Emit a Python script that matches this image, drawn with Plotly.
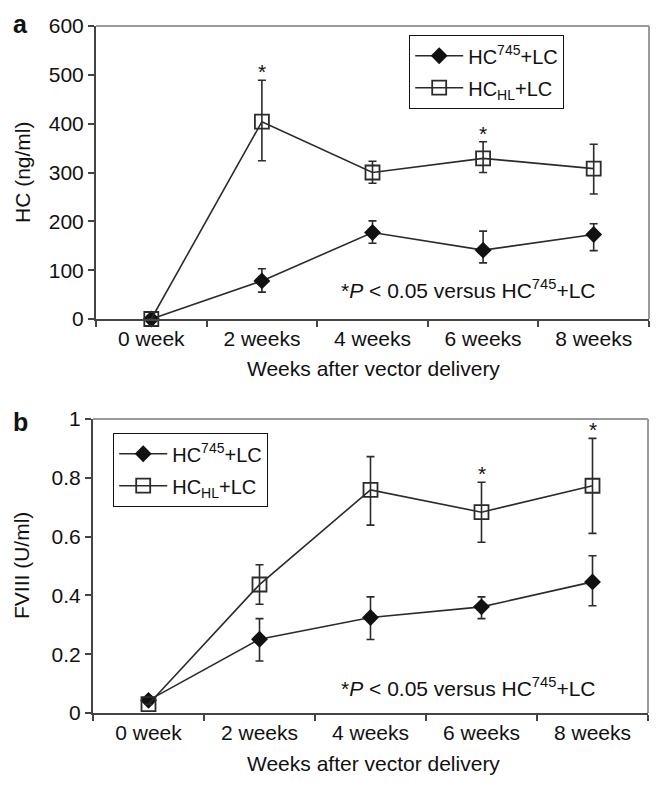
import plotly.graph_objects as go

weeks = ["0 week", "2 weeks", "4 weeks", "6 weeks", "8 weeks"]

# Panel a: HC (ng/ml)
a_hc745 = [0, 78, 177, 141, 173]
a_hc745_hi = [0, 103, 201, 180, 195]
a_hc745_lo = [0, 55, 155, 115, 140]
a_hchl = [0, 404, 300, 329, 308]
a_hchl_hi = [0, 489, 323, 363, 358]
a_hchl_lo = [0, 324, 278, 300, 256]
a_sig = ["2 weeks", "6 weeks"]

# Panel b: FVIII (U/ml)
b_hc745 = [0.043, 0.251, 0.325, 0.361, 0.446]
b_hc745_hi = [0.043, 0.321, 0.395, 0.395, 0.535]
b_hc745_lo = [0.043, 0.177, 0.250, 0.321, 0.365]
b_hchl = [0.030, 0.437, 0.759, 0.683, 0.773]
b_hchl_hi = [0.030, 0.504, 0.872, 0.785, 0.934]
b_hchl_lo = [0.030, 0.370, 0.639, 0.581, 0.611]
b_sig = ["6 weeks", "8 weeks"]

FONT = "Liberation Sans, Arial, Helvetica, sans-serif"
DARK = "#2b2b2b"
FS = 21
name745 = "HC<sup>745</sup>+LC"
nameHL = "HC<sub>HL</sub>+LC"

# page body has an 8px margin: figure drawn at (8, 8)
OFF = 8
W, H = 664 - OFF, 788 - OFF


def px(x):
    return (x - OFF) / W


def py(y):
    return 1 - (y - OFF) / H


def err(mean, hi, lo):
    return dict(type="data", symmetric=False,
                array=[h - m for h, m in zip(hi, mean)],
                arrayminus=[m - l for m, l in zip(mean, lo)],
                color=DARK, thickness=1.6, width=4)


fig = go.Figure()

for (m745, h745, l745, mhl, hhl, lhl, xa, ya, leg) in [
    (a_hc745, a_hc745_hi, a_hc745_lo, a_hchl, a_hchl_hi, a_hchl_lo, "x", "y", "legend"),
    (b_hc745, b_hc745_hi, b_hc745_lo, b_hchl, b_hchl_hi, b_hchl_lo, "x2", "y2", "legend2"),
]:
    fig.add_trace(go.Scatter(
        x=weeks, y=m745, name=name745, mode="lines+markers",
        line=dict(color=DARK, width=1.6),
        marker=dict(symbol="diamond", size=13, color="#111111", line=dict(width=0)),
        error_y=err(m745, h745, l745), xaxis=xa, yaxis=ya, legend=leg,
        legendgroup=leg + "1", cliponaxis=False))
    fig.add_trace(go.Scatter(
        x=weeks, y=mhl, name=nameHL, mode="lines+markers",
        line=dict(color=DARK, width=1.6),
        marker=dict(symbol="square-open", size=14, color=DARK, line=dict(width=1.8, color=DARK)),
        error_y=err(mhl, hhl, lhl), xaxis=xa, yaxis=ya, legend=leg,
        legendgroup=leg + "2", cliponaxis=False))

axis_common = dict(showline=True, linecolor="#444444", linewidth=2, ticks="outside",
                   ticklen=6, tickwidth=2, tickcolor="#444444", automargin=False,
                   tickfont=dict(size=FS, color="#111111", family=FONT),
                   showgrid=False, zeroline=False)

legend_common = dict(xanchor="left", yanchor="top", bordercolor="#111111", borderwidth=1.2,
                     bgcolor="white", font=dict(size=20, family=FONT), tracegroupgap=3,
                     itemwidth=48)

fig.update_layout(
    width=W, height=H, margin=dict(l=0, r=0, t=0, b=0, autoexpand=False),
    paper_bgcolor="white", plot_bgcolor="white",
    font=dict(family=FONT, color="#111111", size=FS),
    xaxis=dict(domain=[px(96), px(649)], anchor="y", type="category",
               categoryorder="array", categoryarray=weeks,
               range=[-0.5, 4.5], tickson="boundaries", **axis_common),
    yaxis=dict(domain=[py(319), py(26)], anchor="x",
               range=[0, 600], dtick=100, **axis_common),
    xaxis2=dict(domain=[px(93), px(648)], anchor="y2", type="category",
                categoryorder="array", categoryarray=weeks,
                range=[-0.5, 4.5], tickson="boundaries", **axis_common),
    yaxis2=dict(domain=[py(713), py(419)], anchor="x2",
                range=[0, 1], dtick=0.2, **axis_common),
    legend=dict(x=px(409), y=py(35), **legend_common),
    legend2=dict(x=px(113), y=py(433), **legend_common),
    showlegend=True,
)

# gray top/right frame
for xr, yr in [("x domain", "y domain"), ("x2 domain", "y2 domain")]:
    fig.add_shape(type="line", xref=xr, yref=yr, x0=0, x1=1, y0=1, y1=1,
                  line=dict(color="#9a9a9a", width=2))
    fig.add_shape(type="line", xref=xr, yref=yr, x0=1, x1=1, y0=0, y1=1,
                  line=dict(color="#9a9a9a", width=2))

ann = []
# asterisks
for sig, hi, xr, yr in [(a_sig, a_hchl_hi, "x", "y"), (b_sig, b_hchl_hi, "x2", "y2")]:
    for s in sig:
        ann.append(dict(x=s, y=hi[weeks.index(s)], xref=xr, yref=yr, text="*",
                        showarrow=False, yanchor="bottom", yshift=-5,
                        font=dict(size=21, color="#111111")))
# p-value notes
pnote = "*<i>P</i> < 0.05 versus HC<sup>745</sup>+LC"
for yc in [289, 687]:
    ann.append(dict(x=px(468), y=py(yc), xref="paper", yref="paper", text=pnote,
                    showarrow=False, xanchor="center", yanchor="middle", font=dict(size=FS)))
# axis titles
for yc in [368, 763]:
    ann.append(dict(x=px(373), y=py(yc), xref="paper", yref="paper",
                    text="Weeks after vector delivery", showarrow=False,
                    xanchor="center", yanchor="middle", font=dict(size=FS)))
ann.append(dict(x=px(22), y=py(172), xref="paper", yref="paper", text="HC (ng/ml)",
                textangle=-90, showarrow=False, xanchor="center", yanchor="middle",
                font=dict(size=FS)))
ann.append(dict(x=px(21), y=py(566), xref="paper", yref="paper", text="FVIII (U/ml)",
                textangle=-90, showarrow=False, xanchor="center", yanchor="middle",
                font=dict(size=FS)))
# panel letters
ann.append(dict(x=px(20), y=1, xref="paper", yref="paper", text="<b>a</b>",
                showarrow=False, xanchor="center", yanchor="top", font=dict(size=25)))
ann.append(dict(x=px(20), y=py(422), xref="paper", yref="paper", text="<b>b</b>",
                showarrow=False, xanchor="center", yanchor="middle", font=dict(size=25)))

fig.update_layout(annotations=ann)

fig.write_html("out.html")
